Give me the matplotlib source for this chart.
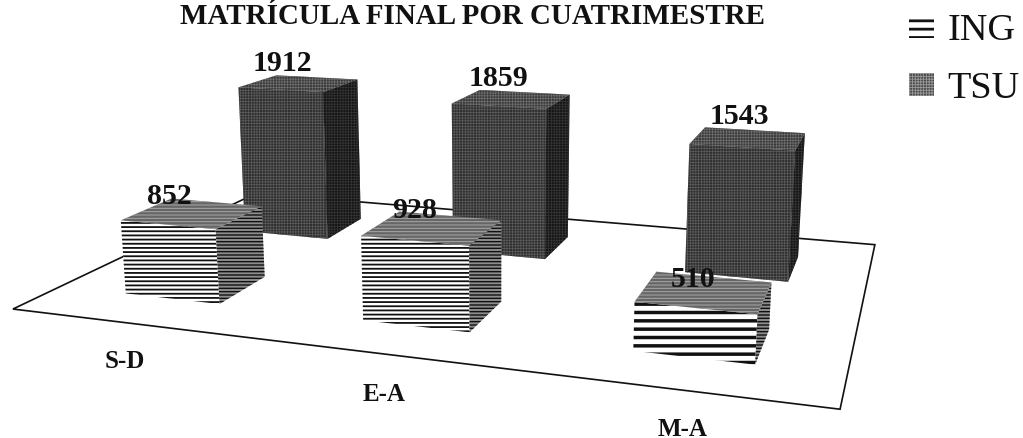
import matplotlib
matplotlib.use("Agg")
import matplotlib.pyplot as plt
from matplotlib.patches import Patch
from mpl_toolkits.mplot3d.art3d import Poly3DCollection

plt.rcParams['font.family'] = ['Liberation Serif', 'DejaVu Serif']

categories = ["S-D", "E-A", "M-A"]
series_names = ["ING", "TSU"]
ing_values = [852, 928, 510]
tsu_values = [1912, 1859, 1543]
ing_hatches = ["----", "----", "--"]
ing_hatch_widths = [1.3, 1.3, 2.5]
ing_label_lift = [175, 175, 115]
cat_label_drop = [-320, -300, -260]

BAR_W = 0.41
BAR_D = 0.38
INK = "#111111"


def add_face(ax, verts, face, hatch, hatch_color, hatch_lw):
    with plt.rc_context({"hatch.linewidth": hatch_lw}):
        coll = Poly3DCollection([verts], facecolors=face, edgecolors=hatch_color,
                                linewidths=0, hatch=hatch)
    ax.add_collection3d(coll)


def draw_bar(ax, cat, row, value, front, side, top):
    x0, x1 = cat - BAR_W / 2, cat + BAR_W / 2
    y0, y1 = row - BAR_D / 2, row + BAR_D / 2
    add_face(ax, [(x0, y0, 0), (x1, y0, 0), (x1, y0, value), (x0, y0, value)], *front)
    add_face(ax, [(x1, y0, 0), (x1, y1, 0), (x1, y1, value), (x1, y0, value)], *side)
    add_face(ax, [(x0, y0, value), (x1, y0, value), (x1, y1, value), (x0, y1, value)], *top)


fig = plt.figure(figsize=(10.23, 4.38), dpi=100)
ax = fig.add_axes([0, 0, 1, 1], projection="3d")
ax.set_xlim(-0.5, 2.5)
ax.set_ylim(-0.5, 1.5)
ax.set_zlim(0, 2000)
ax.set_box_aspect((1, 0.638, 0.229))
ax.view_init(13.7, -70.91, 0.22)
ax.set_proj_type("persp", focal_length=0.283)

# place the square 3D box so the floor lands where it sits in the scan
scale, tx, ty = 4783.2, 475.3, 246.2
vx0, vx1 = ax.viewLim.intervalx
vy0, vy1 = ax.viewLim.intervaly
ax.set_position([(tx + scale * vx0) / 1023, (ty + scale * vy0) / 438,
                 scale * (vx1 - vx0) / 1023, scale * (vy1 - vy0) / 438])

ax.patch.set_alpha(0)
ax.grid(False)
ax.set_xticks([])
ax.set_yticks([])
ax.set_zticks([])
for axis in (ax.xaxis, ax.yaxis):
    axis.pane.set_visible(False)
for axis in (ax.xaxis, ax.yaxis, ax.zaxis):
    axis.line.set_color((0, 0, 0, 0))
    axis.label.set_visible(False)
    axis.offsetText.set_visible(False)
ax.title.set_visible(False)
ax._left_title.set_visible(False)
ax._right_title.set_visible(False)
ax.zaxis.set_pane_color("white")
ax.zaxis.pane.set_edgecolor(INK)
ax.zaxis.pane.set_linewidth(1.2)
ax.zaxis.pane.set_closed(True)

for i, cat in enumerate(categories):
    draw_bar(ax, i, 1, tsu_values[i],
             ("#2e2e2e", "++++++", "#5c5c5c", 0.5),
             ("#151515", "++++++", "#363636", 0.5),
             ("#3a3a3a", "++++++", "#707070", 0.5))
    draw_bar(ax, i, 0, ing_values[i],
             ("white", ing_hatches[i], INK, ing_hatch_widths[i]),
             ("#8c8c8c", "-----", INK, 1.0),
             ("#666666", "-----", "#a8a8a8", 0.7))

    ax.text(i - 0.08 + 0.02 * i, 1, tsu_values[i] + 250, str(tsu_values[i]), ha="center", va="center",
            fontsize=21.5, fontweight="bold", color=INK, zorder=30)
    ax.text(i - 0.10 + 0.03 * i, 0, ing_values[i] + ing_label_lift[i], str(ing_values[i]), ha="center",
            va="center", fontsize=21.5, fontweight="bold", color=INK, zorder=30)
    ax.text(i + 0.04, -0.6, cat_label_drop[i], cat, ha="center", va="center",
            fontsize=18, fontweight="bold", color=INK, zorder=30)

fig.text(473 / 1023, 1 - 16 / 438, "MATRÍCULA FINAL POR CUATRIMESTRE", ha="center", va="center",
         fontsize=20.9, fontweight="bold", color=INK)

handles = [Patch(facecolor="white", edgecolor=INK, hatch="--", linewidth=0),
           Patch(facecolor="#4a4a4a", edgecolor="#9a9a9a", hatch="++++++", linewidth=0)]
leg = fig.legend(handles, series_names, loc="upper left",
                 bbox_to_anchor=(909 / 1023, 1 - 13 / 438),
                 frameon=False, fontsize=27.5, labelspacing=0.63, handlelength=0.66,
                 handleheight=0.58, handletextpad=0.34, borderpad=0, borderaxespad=0, labelcolor=INK)
# the two swatches need different hatch weights
leg.get_patches()[0]._hatch_linewidth = 2.0
leg.get_patches()[1]._hatch_linewidth = 0.6

fig.savefig("out.png", dpi=100)
